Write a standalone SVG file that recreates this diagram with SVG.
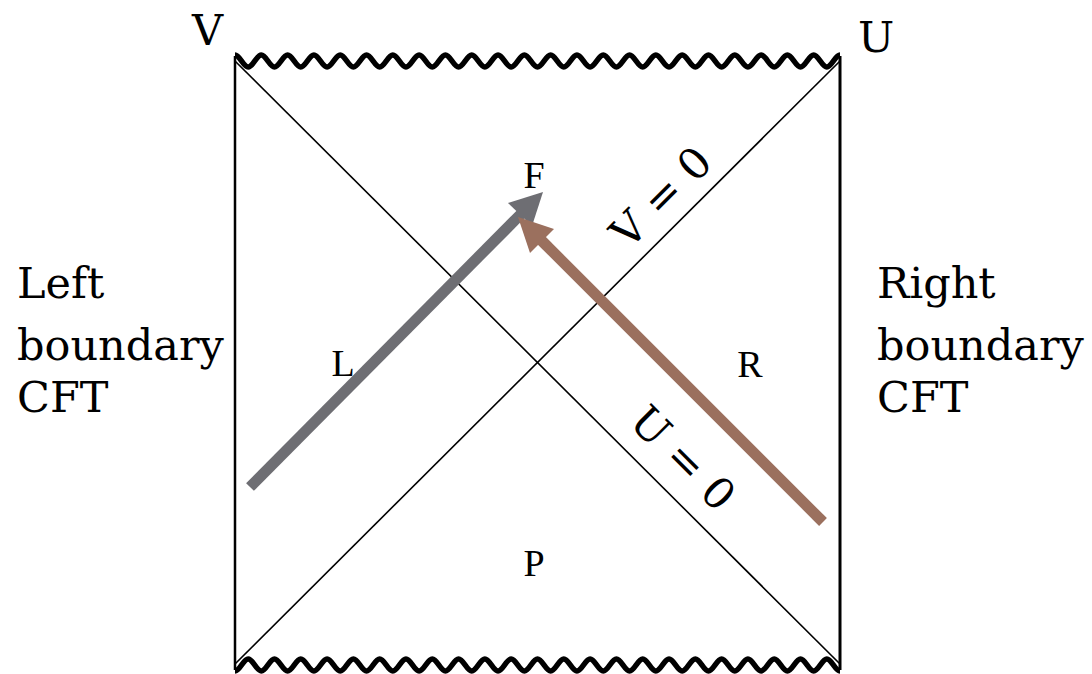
<svg xmlns="http://www.w3.org/2000/svg" xmlns:xlink="http://www.w3.org/1999/xlink" width="1092" height="674" viewBox="0 0 1092 674">
<style>
.big{font-family:"DejaVu Serif","Liberation Serif",serif;font-size:43px;fill:#000}
.lab{font-family:"Liberation Serif","DejaVu Serif",serif;font-size:38px;fill:#000;text-anchor:middle}
.diag{stroke:#000;stroke-width:1.6;fill:none}
</style>
<defs>
<clipPath id="clipw"><rect x="232" y="0" width="611" height="674"/></clipPath>
<path id="wave" fill="none" stroke="#000" stroke-width="5.5" stroke-linejoin="round" d="M235,55
c4.735,0 8.417,12 13.152,12 s8.417,-12 13.152,-12
s8.417,12 13.152,12 s8.417,-12 13.152,-12
s8.417,12 13.152,12 s8.417,-12 13.152,-12
s8.417,12 13.152,12 s8.417,-12 13.152,-12
s8.417,12 13.152,12 s8.417,-12 13.152,-12
s8.417,12 13.152,12 s8.417,-12 13.152,-12
s8.417,12 13.152,12 s8.417,-12 13.152,-12
s8.417,12 13.152,12 s8.417,-12 13.152,-12
s8.417,12 13.152,12 s8.417,-12 13.152,-12
s8.417,12 13.152,12 s8.417,-12 13.152,-12
s8.417,12 13.152,12 s8.417,-12 13.152,-12
s8.417,12 13.152,12 s8.417,-12 13.152,-12
s8.417,12 13.152,12 s8.417,-12 13.152,-12
s8.417,12 13.152,12 s8.417,-12 13.152,-12
s8.417,12 13.152,12 s8.417,-12 13.152,-12
s8.417,12 13.152,12 s8.417,-12 13.152,-12
s8.417,12 13.152,12 s8.417,-12 13.152,-12
s8.417,12 13.152,12 s8.417,-12 13.152,-12
s8.417,12 13.152,12 s8.417,-12 13.152,-12
s8.417,12 13.152,12 s8.417,-12 13.152,-12
s8.417,12 13.152,12 s8.417,-12 13.152,-12
s8.417,12 13.152,12 s8.417,-12 13.152,-12
s8.417,12 13.152,12 s8.417,-12 13.152,-12"/>
</defs>
<rect width="1092" height="674" fill="#fff"/>
<g id="diagram">
  <g clip-path="url(#clipw)">
    <use xlink:href="#wave" href="#wave"/>
    <use xlink:href="#wave" href="#wave" transform="matrix(1,0,0,-1,0,726)"/>
  </g>
  <line x1="235" y1="56" x2="235" y2="670" stroke="#000" stroke-width="2.5"/>
  <line x1="840" y1="56" x2="840" y2="670" stroke="#000" stroke-width="3"/>
  <line class="diag" x1="235" y1="61" x2="840" y2="664"/>
  <line class="diag" x1="235" y1="664" x2="840" y2="61"/>
</g>
<g id="labels">
  <text class="big" x="192" y="45">V</text>
  <text class="big" x="858" y="52">U</text>
  <text class="big" x="17" y="298">Left</text>
  <text class="big" x="17" y="360">boundary</text>
  <text class="big" x="17" y="412">CFT</text>
  <text class="big" x="877" y="298">Right</text>
  <text class="big" x="877" y="360">boundary</text>
  <text class="big" x="877" y="412">CFT</text>
  <text class="lab" x="534" y="188">F</text>
  <text class="lab" x="343" y="376">L</text>
  <text class="lab" x="750" y="377">R</text>
  <text class="lab" x="534" y="576">P</text>
  <text class="big" text-anchor="middle" transform="translate(661,197) rotate(-45)" x="0" y="15">V = 0</text>
  <text class="big" text-anchor="middle" transform="translate(683,458) rotate(45)" x="0" y="15">U = 0</text>
</g>
<g id="connectors">
  <line x1="250" y1="487" x2="521" y2="214" stroke="#6e6e73" stroke-width="11"/>
  <polygon points="543,192 532,226 508,203" fill="#6e6e73"/>
  <line x1="823" y1="522" x2="541" y2="240" stroke="#9b705e" stroke-width="11"/>
  <polygon points="518,217 554,229 530,253" fill="#9b705e"/>
</g>
</svg>
